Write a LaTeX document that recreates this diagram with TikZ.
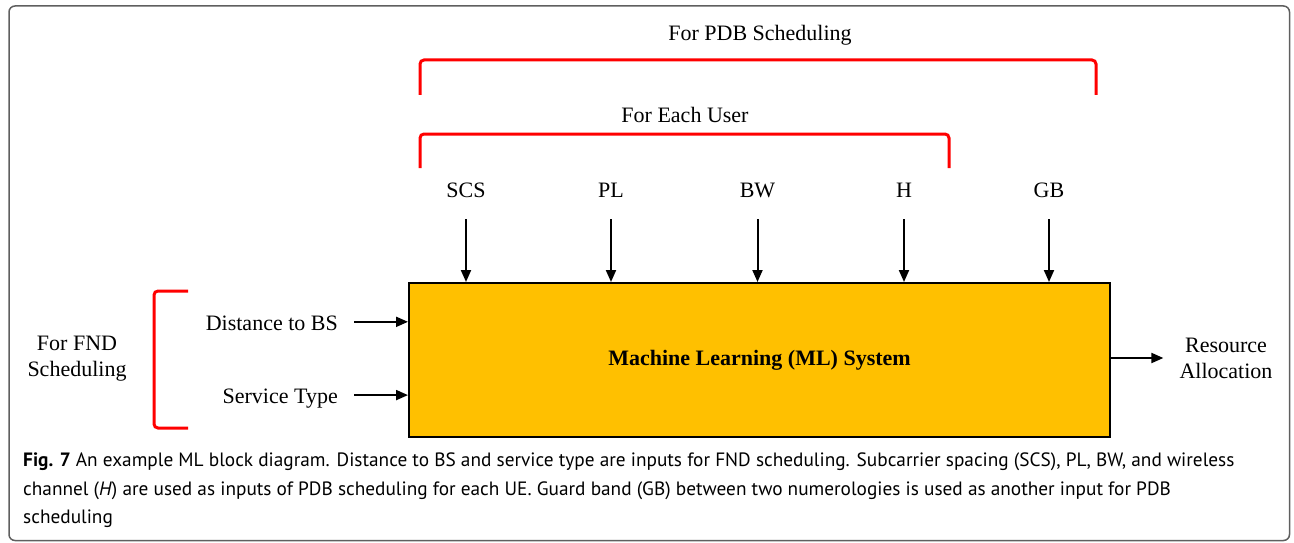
\documentclass[tikz,border=0pt]{standalone}
\usepackage{fontspec}
\setmainfont{Liberation Serif}
\newfontfamily\capfont{PT Sans}
\usetikzlibrary{arrows.meta}
\definecolor{mlyellow}{HTML}{FFC000}
\definecolor{brkred}{HTML}{FF0000}
\definecolor{framegray}{HTML}{5F5F5F}
\tikzset{
  lbl/.style={inner sep=0pt, font=\fontsize{22}{26}\selectfont},
  mlbox/.style={draw=black, line width=2pt, fill=mlyellow, minimum width=701pt, minimum height=154pt, inner sep=0pt, font=\fontsize{22}{26}\selectfont\bfseries},
  arr/.style={draw=black, line width=2pt, -{Triangle[length=12pt,width=10pt]}},
  brk/.style={draw=brkred, line width=3pt, rounded corners=4pt},
  captext/.style={inner sep=0pt, anchor=base west, font=\capfont\fontsize{19.3}{23}\selectfont},
}
\begin{document}
\begin{tikzpicture}[x=1pt,y=-1pt]
\useasboundingbox (0,0) rectangle (1294,543);
\draw[framegray, line width=1.5pt, rounded corners=6pt] (9,6) rectangle (1289.5,540.5);

% main block
\node[mlbox] (ml) at (759.5,360) {\raisebox{-2pt}{Machine Learning (ML) System}};

% top brackets and titles
\node[lbl, anchor=base] (pdb) at (760,41) {For PDB Scheduling};
\draw[brk] (420,95) -- (420,60) -- (1096,60) -- (1096,95);
\node[lbl, anchor=base] (each) at (685,122) {For Each User};
\draw[brk] (420,168) -- (420,134) -- (949,134) -- (949,168);

% top inputs
\node[lbl, anchor=base] (scs) at (466,197) {SCS};
\node[lbl, anchor=base] (pl) at (611,197) {PL};
\node[lbl, anchor=base] (bw) at (757.5,197) {BW};
\node[lbl, anchor=base] (h) at (904,197) {H};
\node[lbl, anchor=base] (gb) at (1049,197) {GB};
\foreach \n in {scs,pl,bw,h,gb}{
  \draw[arr] ([yshift=-22pt]\n.base) -- (\n.base |- ml.north);
}

% left inputs
\node[lbl, anchor=center, align=center] (fnd) at (77,359) {For FND\\Scheduling};
\draw[brk] (188,291) -- (154,291) -- (154,428) -- (188,428);
\node[lbl, anchor=base east] (dist) at (338,330) {Distance to BS};
\node[lbl, anchor=base east] (serv) at (338,403) {Service Type};
\draw[arr] ([xshift=16pt,yshift=1pt]dist.east) -- ([yshift=1pt]dist.east -| ml.west);
\draw[arr] ([xshift=16pt,yshift=3pt]serv.east) -- ([yshift=3pt]serv.east -| ml.west);

% output
\node[lbl, anchor=center, align=center] (res) at (1226,358) {Resource\\Allocation};
\draw[arr] (res.west -| ml.east) -- ([xshift=-16pt]res.west);

% caption
\node[captext] (c1) at (23,466) {\textbf{Fig. 7} An example ML block diagram. Distance to BS and service type are inputs for FND scheduling. Subcarrier spacing (SCS), PL, BW, and wireless};
\node[captext] (c2) at (23,495) {channel (\textit{H}) are used as inputs of PDB scheduling for each UE. Guard band (GB) between two numerologies is used as another input for PDB};
\node[captext] (c3) at (23,523) {scheduling};
\end{tikzpicture}
\end{document}
